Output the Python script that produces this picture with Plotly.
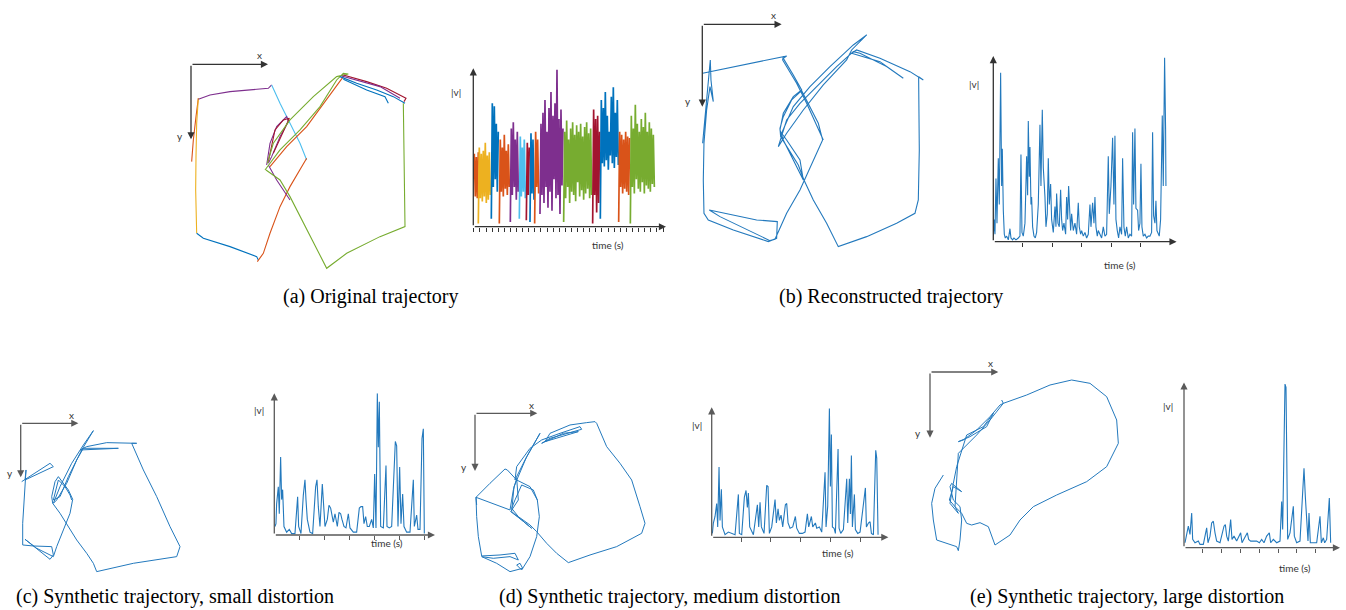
import plotly.graph_objects as go

W, H = 1346, 610

# ------------------------------------------------------------------ data
# (a) original trajectory: pieces of the recording, one colour each (x, y in trajectory units, y pointing down)
a1_x = [2, 7, 15, 22]
a1_y = [292, 227, 157, 102]
a2_x = [22, 17, 15, 14, 17]
a2_y = [102, 177, 277, 377, 507]
a3_x = [17, 37, 117, 197, 202]
a3_y = [507, 522, 547, 577, 587]
a4_x = [22, 57, 117, 177, 232, 242]
a4_y = [105, 92, 82, 77, 72, 62]
a5_x = [242, 267, 297, 327, 347]
a5_y = [62, 117, 177, 237, 287]
a6_x = [199, 217, 237, 267, 297, 327, 347]
a6_y = [592, 567, 507, 427, 367, 317, 282]
a7_x = [237, 287, 347, 407, 457]
a7_y = [307, 247, 187, 107, 37]
a8_x = [227, 237, 257, 287, 292, 267, 242, 232]
a8_y = [302, 237, 187, 157, 172, 217, 277, 297]
a9_x = [232, 252, 277, 295, 277, 247]
a9_y = [292, 197, 167, 162, 202, 267]
a10_x = [232, 257, 287, 297]
a10_y = [302, 347, 392, 407]
a11_x = [225, 267, 297, 347, 407, 467, 567, 642, 639, 637]
a11_y = [317, 347, 397, 497, 612, 567, 517, 487, 327, 117]
a12_x = [222, 267, 327, 387, 437, 457, 472, 437, 367, 297, 247, 229]
a12_y = [317, 257, 197, 127, 47, 27, 29, 37, 97, 167, 237, 297]
a13_x = [447, 497, 557, 607, 642]
a13_y = [37, 57, 77, 97, 117]
a14_x = [457, 527, 582, 592]
a14_y = [45, 77, 97, 117]
a15_x = [457, 527, 587, 645, 639]
a15_y = [32, 52, 72, 102, 112]
a16_x = [452, 567, 627]
a16_y = [35, 67, 102]

# (a) speed |v| per piece: start time and samples
a_v_start = [0, 15, 54, 78, 111, 138, 159, 170, 184, 200, 271, 358, 381, 436, 471]
a_v1 = [30, 46, 19, 44, 18, 47]
a_v2 = [2, 50, 18, 46, 16, 48, 19, 53, 15, 45, 17, 47, 20]
a_v3 = [5, 78, 25, 76, 30, 65, 22, 60]
a_v4 = [2, 55, 22, 50, 19, 58, 24, 48, 20, 52, 25]
a_v5 = [3, 62, 20, 66, 25, 55, 17, 60, 22]
a_v6 = [5, 57, 19, 50, 22, 55, 18]
a_v7 = [4, 53, 20, 50]
a_v8 = [3, 59, 21, 55, 17]
a_v9 = [2, 60, 25, 55, 21]
a_v10 = [8, 65, 20, 72, 15, 80, 25, 60, 12, 75, 22, 85, 10, 70, 30, 78, 18, 99, 20, 68, 8, 74, 26, 62]
a_v11 = [3, 60, 18, 67, 25, 55, 15, 62, 22, 66, 20, 58, 16, 64, 28, 60, 19, 65, 23, 57, 17, 63, 21, 66, 24, 59, 18, 62, 20]
a_v12 = [2, 74, 20, 68, 9, 70, 15, 60]
a_v13 = [5, 80, 40, 75, 38, 85, 42, 70, 36, 60, 45, 82, 40, 88, 37, 72, 44, 80, 39]
a_v14 = [3, 60, 25, 58, 21, 55, 24, 60, 22, 57, 20, 56]
a_v15 = [2, 70, 25, 62, 21, 77, 30, 65, 24, 60, 22, 68, 28, 63, 21, 72, 26, 60, 24, 66, 22, 62, 27, 58, 25]
a_v_step = 3

# (b) reconstructed trajectory
b_x = [1, 11, 21, 24, 26, 33, 23, 13, 5, 3, 5, 18, 93, 198, 223, 225, 163, 21, 53, 203, 218, 253, 293, 333,
       361, 348, 318, 298, 268, 243, 233, 235, 263, 288, 305, 333, 373, 408, 493, 583, 638, 648, 651, 650,
       649, 663, 623, 533, 463, 448, 533, 603, 553, 473, 453, 403, 343, 293, 253, 228, 253, 303, 363, 433,
       448, 493, 453, 383, 323, 273, 238, 253, 293, 303, 273, 243, 233, 243, 273, 298, 273, 243, 253, 1,
       243, 241, 283, 313, 353, 363]
b_y = [357, 247, 157, 107, 167, 232, 187, 257, 357, 467, 567, 587, 617, 652, 642, 592, 587, 557, 577, 649,
       645, 567, 497, 407, 347, 297, 237, 199, 227, 277, 312, 337, 382, 422, 467, 527, 597, 667, 637, 597,
       567, 527, 377, 227, 157, 167, 142, 102, 77, 87, 112, 162, 127, 87, 82, 127, 187, 237, 287, 367, 327,
       257, 182, 107, 77, 32, 62, 127, 187, 247, 327, 347, 407, 467, 407, 347, 317, 267, 217, 197, 152, 102,
       95, 147, 97, 107, 177, 237, 327, 347]
b_t = [0, 3, 5, 8, 11, 15, 18, 22, 25, 27, 30, 33, 36, 40, 45, 50, 53, 58, 62, 68, 75, 80, 83, 86, 90, 95,
       100, 103, 105, 108, 110, 113, 115, 118, 122, 126, 130, 135, 140, 143, 147, 150, 155, 158, 162, 165,
       168, 172, 175, 180, 185, 188, 190, 194, 198, 202, 205, 208, 212, 217, 220, 223, 226, 229, 232, 235,
       240, 245, 250, 255, 258, 262, 265, 270, 275, 280, 285, 290, 293, 298, 302, 305, 308, 312, 315, 320,
       325, 330, 335, 340, 345, 348, 353, 358, 362, 365, 368, 372, 376, 380, 385, 388, 392, 396, 400, 405,
       410, 415, 418, 421, 425, 428, 433, 436, 440, 443, 446, 450, 455, 460, 465, 470, 475, 478, 481, 485,
       488, 491, 495, 498, 502, 505, 507, 510, 514, 517, 518]
b_v = [3, 12, 4, 34, 10, 45, 20, 91, 30, 50, 17, 4, 2, 3, 1, 7, 2, 1, 2, 1, 2, 3, 47, 5, 3, 10, 46, 25, 65,
       35, 51, 20, 24, 8, 3, 2, 5, 20, 63, 30, 71, 40, 24, 8, 15, 45, 20, 31, 12, 5, 19, 8, 26, 10, 8, 28,
       12, 6, 10, 4, 24, 12, 30, 14, 6, 15, 6, 10, 4, 21, 8, 4, 6, 3, 5, 2, 4, 20, 8, 21, 10, 24, 8, 3, 6, 4,
       2, 8, 3, 4, 46, 15, 30, 56, 20, 57, 12, 6, 2, 8, 4, 45, 8, 3, 8, 2, 4, 3, 59, 20, 61, 18, 17, 6, 10,
       42, 8, 3, 4, 2, 3, 3, 5, 59, 14, 10, 22, 6, 4, 3, 12, 40, 68, 30, 99, 60, 30]

# (c) small distortion
c_x = [3, 48, 88, 98, 13, 16, 10, 6, 6, 38, 93, 98, 88, 13, 48, 98, 108, 128, 148, 156, 143, 113, 103, 93,
       96, 118, 143, 168, 198, 218, 228, 338, 468, 478, 448, 408, 368, 333, 348, 258, 198, 178, 293, 188,
       168, 138, 108, 98, 118, 153, 188, 218, 183, 143, 118, 98, 113, 133, 148, 153]
c_y = [175, 145, 120, 130, 170, 140, 230, 300, 365, 368, 370, 395, 408, 348, 375, 400, 370, 320, 270, 228,
       200, 160, 175, 220, 240, 270, 310, 350, 390, 420, 445, 420, 400, 370, 310, 220, 140, 60, 60, 58, 70,
       80, 75, 75, 110, 180, 230, 240, 190, 120, 65, 22, 80, 160, 220, 230, 170, 190, 215, 230]
c_t = [2, 5, 7, 12, 15, 19, 22, 25, 29, 37, 45, 52, 62, 70, 73, 80, 87, 92, 95, 99, 107, 115, 124, 128, 132,
       137, 144, 147, 152, 159, 164, 169, 173, 177, 182, 189, 194, 199, 203, 209, 215, 222, 227, 237, 247,
       255, 260, 265, 269, 274, 279, 285, 292, 297, 301, 305, 309, 312, 315, 319, 327, 335, 338, 345, 352,
       363, 367, 371, 376, 380, 385, 389, 397, 407, 417, 420, 427, 431, 437, 443, 447, 450]
c_v = [6, 8, 22, 34, 15, 55, 25, 32, 6, 2, 4, 1, 1, 27, 6, 1, 28, 39, 25, 11, 2, 1, 34, 39, 20, 6, 36, 27,
       6, 11, 21, 19, 13, 9, 15, 6, 16, 15, 11, 6, 5, 15, 5, 2, 2, 19, 20, 20, 8, 13, 6, 6, 11, 5, 43, 5,
       100, 62, 94, 6, 5, 49, 6, 5, 6, 66, 63, 6, 48, 8, 29, 6, 2, 2, 39, 6, 14, 4, 4, 68, 75, 1]

# (d) medium distortion
d_x = [5, 3, 45, 90, 97, 125, 165, 187, 193, 185, 165, 140, 125, 135, 143, 105, 65, 20, 55, 105, 130, 120,
       75, 20, 10, 5, 3, 105, 115, 125, 130, 107, 140, 170, 145, 110, 117, 155, 195, 150, 120, 125, 165, 200,
       255, 315, 320, 225, 200, 265, 310, 210, 225, 285, 335, 360, 365, 395, 435, 470, 495, 510, 500, 425,
       345, 280, 245, 215, 185, 165, 130, 110, 120, 140, 175, 187]
d_y = [275, 252, 210, 167, 170, 200, 220, 260, 310, 370, 430, 470, 455, 450, 465, 475, 450, 430, 435, 430,
       440, 420, 425, 428, 370, 310, 252, 290, 230, 195, 260, 295, 320, 345, 325, 295, 220, 130, 60, 140,
       200, 160, 105, 80, 60, 40, 48, 75, 90, 60, 55, 85, 60, 35, 28, 25, 30, 100, 150, 200, 280, 330, 360,
       400, 425, 448, 420, 390, 355, 335, 310, 285, 260, 215, 230, 260]
d_t = [2, 5, 10, 15, 18, 22, 25, 29, 32, 40, 50, 60, 70, 80, 83, 90, 98, 103, 107, 110, 114, 125, 137, 141,
       145, 149, 157, 165, 169, 173, 180, 190, 194, 199, 203, 208, 213, 221, 225, 229, 235, 243, 251, 255,
       263, 272, 280, 287, 291, 299, 303, 311, 315, 323, 330, 340, 343, 348, 353, 356, 359, 362, 367, 371,
       379, 382, 387, 395, 405, 408, 413, 416, 419, 422, 428, 431, 438, 445, 461, 464, 470, 475, 479, 485,
       492, 495, 499]
d_v = [3, 11, 16, 26, 8, 54, 13, 37, 8, 2, 4, 3, 2, 33, 3, 2, 31, 36, 23, 34, 8, 2, 25, 8, 27, 8, 3, 40,
       39, 3, 8, 29, 11, 22, 13, 17, 8, 25, 26, 11, 7, 8, 16, 7, 3, 3, 4, 18, 8, 16, 8, 11, 7, 8, 4, 50, 8,
       24, 99, 39, 79, 8, 7, 3, 68, 7, 3, 6, 45, 11, 45, 18, 63, 8, 33, 6, 3, 4, 38, 8, 11, 12, 3, 2, 67,
       61, 2]

# (e) large distortion
e_x = [40, 15, 5, 10, 20, 80, 85, 90, 95, 90, 70, 60, 65, 95, 70, 58, 75, 90, 95, 110, 125, 150, 175, 195,
       240, 270, 310, 380, 470, 530, 565, 560, 530, 480, 425, 360, 290, 220, 210, 180, 140, 100, 85, 120,
       170, 190, 160, 110, 95, 80, 70, 60, 85, 75, 85, 140, 180, 220, 215]
e_y = [309, 349, 394, 444, 504, 524, 536, 504, 444, 404, 384, 344, 334, 359, 344, 384, 404, 419, 424, 454,
       459, 452, 464, 519, 489, 444, 404, 369, 329, 284, 214, 144, 74, 34, 24, 39, 69, 94, 99, 134, 174, 204,
       209, 194, 164, 124, 164, 189, 234, 284, 334, 394, 424, 404, 244, 189, 144, 94, 84]
e_t = [3, 8, 13, 18, 23, 26, 33, 43, 48, 58, 68, 72, 78, 83, 88, 93, 98, 108, 120, 124, 128, 133, 140, 144,
       150, 158, 170, 174, 180, 190, 194, 200, 208, 218, 226, 233, 240, 248, 256, 260, 268, 278, 288, 293,
       296, 300, 303, 306, 308, 311, 318, 328, 331, 338, 348, 356, 360, 364, 368, 372, 375, 379, 388, 398,
       408, 412, 418, 422, 428, 432, 436, 440]
e_v = [3, 9, 13, 8, 21, 5, 3, 4, 2, 2, 12, 3, 7, 15, 16, 9, 4, 3, 13, 14, 7, 4, 17, 5, 7, 4, 9, 3, 5, 9, 5,
       4, 4, 4, 3, 5, 3, 7, 9, 3, 5, 3, 4, 28, 11, 57, 99, 97, 50, 5, 9, 25, 7, 3, 4, 37, 48, 31, 19, 4, 21,
       3, 3, 3, 19, 3, 6, 3, 5, 20, 30, 3]

# tick positions on the time axes
a_tick0, a_dtick = 20, 18.3
b_ticks = [88, 177, 265, 354, 443]
c_ticks = [75, 150, 225, 300, 375, 450]
d_ticks = [88, 177, 265, 355, 445]
e_ticks = [55, 111, 168, 225, 283, 338, 395]

captions = ["(a) Original trajectory", "(b) Reconstructed trajectory",
            "(c) Synthetic trajectory, small distortion",
            "(d) Synthetic trajectory, medium distortion",
            "(e) Synthetic trajectory, large distortion"]

# ------------------------------------------------------------------ style / layout
RED, YEL, BLU, PUR, GRN, LBL, DRD = "#D95319", "#EDB120", "#0072BD", "#7E2F8E", "#77AC30", "#4DBEEE", "#A2142F"
LINE_BLUE = "#2379bd"

fig = go.Figure()
layout = dict(width=W, height=H, margin=dict(l=0, r=0, t=0, b=0), autosize=False,
              paper_bgcolor="white", plot_bgcolor="white", showlegend=False)
annotations = []


def axname(i, kind):
    return kind if i == 1 else f"{kind}{i}"


def add_traj_axes(i, ox, oy, s, xr, yr, xtip, ytip, col):
    layout[f"xaxis{'' if i == 1 else i}"] = dict(domain=[(ox + xr[0] / s) / W, (ox + xr[1] / s) / W],
                                                 range=list(xr), visible=False, fixedrange=True,
                                                 anchor=axname(i, "y"))
    layout[f"yaxis{'' if i == 1 else i}"] = dict(domain=[1 - (oy + yr[1] / s) / H, 1 - (oy + yr[0] / s) / H],
                                                 range=[yr[1], yr[0]], visible=False, fixedrange=True,
                                                 anchor=axname(i, "x"))
    for tx, ty in ((xtip, 0), (0, ytip)):
        annotations.append(dict(x=tx, y=ty, ax=0, ay=0, xref=axname(i, "x"), yref=axname(i, "y"),
                                axref=axname(i, "x"), ayref=axname(i, "y"), text="", showarrow=True,
                                arrowhead=2, arrowsize=1.1, arrowwidth=1.3, arrowcolor=col))


def add_vel_axes(i, ox, oy, wpx, hpx, L, col, tickvals=None, tick0=None, dtick=None):
    xa = dict(domain=[ox / W, (ox + wpx) / W], range=[0, L], showgrid=False, zeroline=False,
              showline=False, showticklabels=False, ticks="outside", ticklen=4, tickwidth=1,
              tickcolor=col, fixedrange=True, anchor=axname(i, "y"))
    if tickvals is not None:
        xa.update(tickmode="array", tickvals=tickvals)
    else:
        xa.update(tickmode="linear", tick0=tick0, dtick=dtick)
    layout[f"xaxis{i}"] = xa
    layout[f"yaxis{i}"] = dict(domain=[1 - oy / H, 1 - (oy - hpx) / H], range=[0, 100], visible=False,
                               fixedrange=True, anchor=axname(i, "x"))
    for tx, ty in ((L, 0), (0, 100)):
        annotations.append(dict(x=tx, y=ty, ax=0, ay=0, xref=axname(i, "x"), yref=axname(i, "y"),
                                axref=axname(i, "x"), ayref=axname(i, "y"), text="", showarrow=True,
                                arrowhead=2, arrowsize=1.1, arrowwidth=1.3, arrowcolor=col))


def line(i, x, y, color, width=1.0):
    fig.add_trace(go.Scatter(x=x, y=y, mode="lines", line=dict(color=color, width=width),
                             xaxis=axname(i, "x"), yaxis=axname(i, "y"), hoverinfo="skip"))


TOP_AX, BOT_AX = "#333333", "#5a5a5a"

# (a) trajectory
add_traj_axes(1, 191, 64.3, 3, (-45, 675), (-36, 630), 231, 225, TOP_AX)
for xs, ys, c in [(a1_x, a1_y, RED), (a2_x, a2_y, YEL), (a3_x, a3_y, BLU), (a4_x, a4_y, PUR),
                  (a5_x, a5_y, LBL), (a6_x, a6_y, RED), (a7_x, a7_y, RED), (a8_x, a8_y, PUR),
                  (a9_x, a9_y, DRD), (a10_x, a10_y, PUR), (a11_x, a11_y, GRN), (a12_x, a12_y, GRN),
                  (a13_x, a13_y, BLU), (a14_x, a14_y, BLU), (a15_x, a15_y, DRD), (a16_x, a16_y, PUR)]:
    line(1, xs, ys, c, 1.1)

# (b) trajectory
add_traj_axes(2, 702.3, 24.3, 3, (-45, 700), (-60, 700), 238, 247, TOP_AX)
line(2, b_x, b_y, LINE_BLUE, 1.1)

# (c), (d), (e) trajectories
add_traj_axes(3, 20.7, 423.3, 3, (-45, 520), (-30, 470), 173, 162, BOT_AX)
line(3, c_x, c_y, LINE_BLUE, 1.0)
add_traj_axes(4, 475, 413.3, 3, (-30, 540), (-30, 500), 187, 173, BOT_AX)
line(4, d_x, d_y, LINE_BLUE, 1.0)
add_traj_axes(5, 930, 372, 3, (-30, 600), (-30, 560), 205, 197, BOT_AX)
line(5, e_x, e_y, LINE_BLUE, 1.0)

# (a) speed
add_vel_axes(6, 473.3, 226.7, 192.7, 158.4, 578, TOP_AX, tick0=a_tick0, dtick=a_dtick)
a_cols = [RED, YEL, BLU, RED, PUR, LBL, DRD, BLU, RED, PUR, GRN, DRD, BLU, RED, GRN]
a_vals = [a_v1, a_v2, a_v3, a_v4, a_v5, a_v6, a_v7, a_v8, a_v9, a_v10, a_v11, a_v12, a_v13, a_v14, a_v15]
for st, vals, c in zip(a_v_start, a_vals, a_cols):
    line(6, [st + a_v_step * k for k in range(len(vals))], vals, c, 1.7)

# (b)-(e) speed
add_vel_axes(7, 993.3, 241.7, 183.3, 185.7, 550, TOP_AX, tickvals=b_ticks)
line(7, b_t, b_v, LINE_BLUE, 1.1)
add_vel_axes(8, 274.3, 535, 160.7, 141.7, 482, BOT_AX, tickvals=c_ticks)
line(8, c_t, c_v, LINE_BLUE, 1.1)
add_vel_axes(9, 711.7, 537.3, 176.7, 130, 530, BOT_AX, tickvals=d_ticks)
line(9, d_t, d_v, LINE_BLUE, 1.1)
add_vel_axes(10, 1184, 547.7, 156, 165.3, 468, BOT_AX, tickvals=e_ticks)
line(10, e_t, e_v, LINE_BLUE, 1.1)

# small axis labels (pixel positions)
small_labels = [("x", 259, 55), ("y", 180, 136), ("|v|", 456, 92), ("time (s)", 608, 245),
                ("x", 773, 15), ("y", 688, 101), ("|v|", 974, 84), ("time (s)", 1120, 265),
                ("x", 71, 415), ("y", 10, 473), ("|v|", 259, 410), ("time (s)", 387, 543),
                ("x", 531, 405), ("y", 464, 467), ("|v|", 697, 425), ("time (s)", 838, 553),
                ("x", 990, 363), ("y", 918, 433), ("|v|", 1168, 406), ("time (s)", 1295, 568)]
for txt, px, py in small_labels:
    annotations.append(dict(text=txt, x=px / W, y=1 - py / H, xref="paper", yref="paper",
                            showarrow=False, xanchor="center", yanchor="middle",
                            font=dict(family="Lato", size=10, color="#333333")))

cap_pos = [(370, 296), (891, 296), (175, 596), (669, 596), (1127, 596)]
for txt, (px, py) in zip(captions, cap_pos):
    annotations.append(dict(text=txt, x=px / W, y=1 - py / H, xref="paper", yref="paper",
                            showarrow=False, xanchor="center", yanchor="middle",
                            font=dict(family="Liberation Serif", size=20, color="black")))

layout["annotations"] = annotations
fig.update_layout(**layout)
fig.write_html("out.html", config={"displayModeBar": False},
               post_script="document.body.style.margin='0px';")
